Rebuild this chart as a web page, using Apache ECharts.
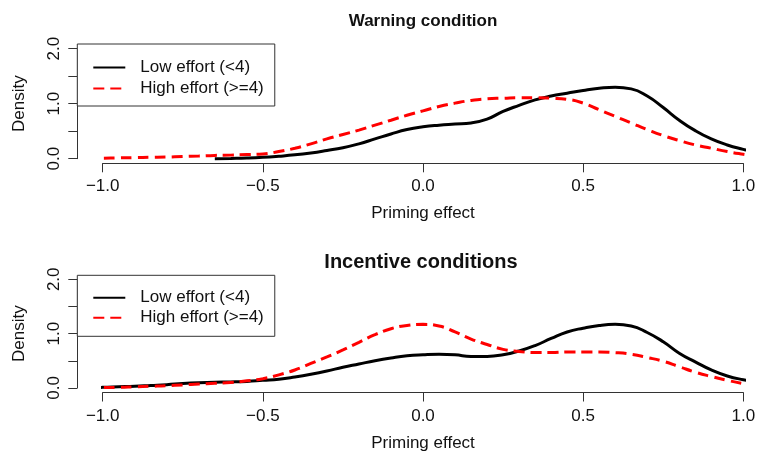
<!DOCTYPE html>
<html><head><meta charset="utf-8">
<script src="https://cdn.jsdelivr.net/npm/echarts@6/dist/echarts.min.js"></script>
<style>html,body{margin:0;padding:0;background:#fff}#c{width:764px;height:453px}</style>
</head><body><div id="c"></div>
<script>
// ---- data ----
const seriesNames = ['Low effort (<4)', 'High effort (>=4)'];
const panelTitles = ['Warning condition', 'Incentive conditions'];
const xAxisTitle = 'Priming effect';
const yAxisTitle = 'Density';
const yLabelTicks = [0, 1, 2];

// Warning condition
const warnLowX = [-0.65,-0.6,-0.55,-0.5,-0.45,-0.4,-0.35,-0.3,-0.25,-0.2,-0.15,-0.1,-0.05,0,0.05,0.1,0.15,0.2,0.25,0.3,0.35,0.4,0.45,0.5,0.55,0.6,0.65,0.7,0.75,0.8,0.85,0.9,0.95,1.0,1.05,1.1];
const warnLowY = [0.0,0.005,0.012,0.025,0.045,0.07,0.105,0.15,0.2,0.27,0.36,0.45,0.53,0.58,0.61,0.63,0.65,0.72,0.86,0.97,1.07,1.14,1.19,1.24,1.28,1.30,1.27,1.14,0.93,0.70,0.51,0.36,0.25,0.17,0.10,0.06];
const warnHighX = [-1.05,-1.0,-0.95,-0.9,-0.85,-0.8,-0.75,-0.7,-0.65,-0.6,-0.55,-0.5,-0.45,-0.4,-0.35,-0.3,-0.25,-0.2,-0.15,-0.1,-0.05,0,0.05,0.1,0.15,0.2,0.25,0.3,0.35,0.4,0.45,0.5,0.55,0.6,0.65,0.7,0.75,0.8,0.85,0.9,0.95,1.0,1.05,1.1];
const warnHighY = [0.005,0.01,0.015,0.02,0.025,0.03,0.04,0.05,0.06,0.065,0.075,0.085,0.13,0.19,0.27,0.36,0.44,0.52,0.61,0.70,0.79,0.87,0.95,1.01,1.06,1.09,1.10,1.11,1.11,1.10,1.08,1.01,0.89,0.77,0.65,0.53,0.42,0.33,0.25,0.19,0.13,0.08,0.035,0.015];

// Incentive conditions
const incLowX = [-1.08,-1.05,-1.0,-0.95,-0.9,-0.85,-0.8,-0.75,-0.7,-0.65,-0.6,-0.55,-0.5,-0.45,-0.4,-0.35,-0.3,-0.25,-0.2,-0.15,-0.1,-0.05,0,0.05,0.1,0.15,0.2,0.25,0.3,0.35,0.4,0.45,0.5,0.55,0.6,0.65,0.7,0.75,0.8,0.85,0.9,0.95,1.0,1.05,1.1];
const incLowY = [0.0,0.005,0.01,0.02,0.03,0.045,0.06,0.08,0.095,0.105,0.11,0.12,0.14,0.16,0.20,0.25,0.31,0.38,0.44,0.50,0.55,0.59,0.61,0.62,0.61,0.58,0.58,0.61,0.68,0.78,0.91,1.03,1.10,1.15,1.17,1.14,1.02,0.85,0.64,0.48,0.33,0.22,0.15,0.10,0.06];
const incHighX = [-1.05,-1.0,-0.95,-0.9,-0.85,-0.8,-0.75,-0.7,-0.65,-0.6,-0.55,-0.5,-0.45,-0.4,-0.35,-0.3,-0.25,-0.2,-0.15,-0.1,-0.05,0,0.05,0.1,0.15,0.2,0.25,0.3,0.35,0.4,0.45,0.5,0.55,0.6,0.65,0.7,0.75,0.8,0.85,0.9,0.95,1.0,1.05,1.1];
const incHighY = [0.0,0.005,0.01,0.02,0.03,0.04,0.055,0.07,0.085,0.10,0.13,0.17,0.24,0.33,0.45,0.57,0.70,0.84,0.98,1.09,1.15,1.17,1.14,1.03,0.90,0.80,0.71,0.67,0.65,0.65,0.66,0.66,0.66,0.65,0.62,0.56,0.49,0.39,0.29,0.21,0.14,0.08,0.03,0.01];

// ---- chart ----
const FONT = '"Liberation Sans", Arial, Helvetica, sans-serif';
const AXIS_COLOR = '#333';
const TEXT_COLOR = '#111';
const zip = (xs, ys) => xs.map((x, i) => [x, ys[i]]);

function xAxisFor(gi, gap) {
  return {
    gridIndex: gi, type: 'value', min: -1, max: 1, interval: 0.5, offset: 4.6,
    axisLine: { show: true, onZero: false, lineStyle: { color: AXIS_COLOR, width: 1 } },
    axisTick: { show: true, length: 9, lineStyle: { color: AXIS_COLOR, width: 1 } },
    axisLabel: { margin: 15, fontSize: 17, color: TEXT_COLOR, fontFamily: FONT,
      formatter: v => v.toFixed(1).replace('-', '\u2212') },
    splitLine: { show: false },
    name: xAxisTitle, nameLocation: 'middle', nameGap: gap,
    nameTextStyle: { fontSize: 17, color: TEXT_COLOR, fontFamily: FONT }
  };
}
function yAxisFor(gi) {
  return {
    gridIndex: gi, type: 'value', min: 0, max: 2, interval: 0.5, offset: 25.4,
    axisLine: { show: true, onZero: false, lineStyle: { color: AXIS_COLOR, width: 1 } },
    axisTick: { show: true, length: 9, lineStyle: { color: AXIS_COLOR, width: 1 } },
    axisLabel: { margin: 14, rotate: 90, fontSize: 17, color: TEXT_COLOR, fontFamily: FONT,
      formatter: v => (yLabelTicks.some(t => Math.abs(t - v) < 1e-9) ? v.toFixed(1) : '') },
    splitLine: { show: false },
    name: yAxisTitle, nameLocation: 'middle', nameGap: 49,
    nameTextStyle: { fontSize: 17, color: TEXT_COLOR, fontFamily: FONT }
  };
}
function lineSeries(name, gi, data, dashed) {
  return {
    name, type: 'line', xAxisIndex: gi, yAxisIndex: gi, data,
    symbol: 'none', smooth: 0.5, clip: false, animation: false,
    lineStyle: { color: dashed ? '#ff0000' : '#000000', width: 3,
      type: dashed ? [11, 6] : 'solid', cap: 'butt' },
    itemStyle: { color: dashed ? '#ff0000' : '#000000' }
  };
}
function legendFor(top, pad, gap) {
  return {
    orient: 'vertical', left: 77.3, top, data: seriesNames,
    backgroundColor: '#fff', borderColor: AXIS_COLOR, borderWidth: 1,
    padding: pad, itemGap: gap, itemWidth: 32, itemHeight: 17,
    selectedMode: false,
    itemStyle: { opacity: 0 },
    textStyle: { fontSize: 17, color: TEXT_COLOR, fontFamily: FONT, lineHeight: 17, padding: [0, 0, 0, 10] }
  };
}

const chart = echarts.init(document.getElementById('c'), null, { renderer: 'canvas' });
chart.setOption({
  animation: false,
  backgroundColor: '#fff',
  textStyle: { fontFamily: FONT },
  grid: [
    { left: 102.7, right: 20.7, top: 48.7, height: 110 },
    { left: 102.7, right: 20.7, top: 279.3, height: 109.7 }
  ],
  xAxis: [xAxisFor(0, 42), xAxisFor(1, 42.5)],
  yAxis: [yAxisFor(0), yAxisFor(1)],
  legend: [legendFor(44, [15, 11, 9, 15], 4), legendFor(275.3, [14, 11, 10, 15], 3)],
  graphic: [
    { type: 'text', x: 423, y: 21, style: { text: panelTitles[0], font: 'bold 17px ' + FONT, fill: TEXT_COLOR, align: 'center', verticalAlign: 'middle' } },
    { type: 'text', x: 421, y: 262, style: { text: panelTitles[1], font: 'bold 20px ' + FONT, fill: TEXT_COLOR, align: 'center', verticalAlign: 'middle' } }
  ],
  series: [
    lineSeries(seriesNames[0], 0, zip(warnLowX, warnLowY), false),
    lineSeries(seriesNames[1], 0, zip(warnHighX, warnHighY), true),
    lineSeries(seriesNames[0], 1, zip(incLowX, incLowY), false),
    lineSeries(seriesNames[1], 1, zip(incHighX, incHighY), true)
  ]
});
</script>
</body></html>
